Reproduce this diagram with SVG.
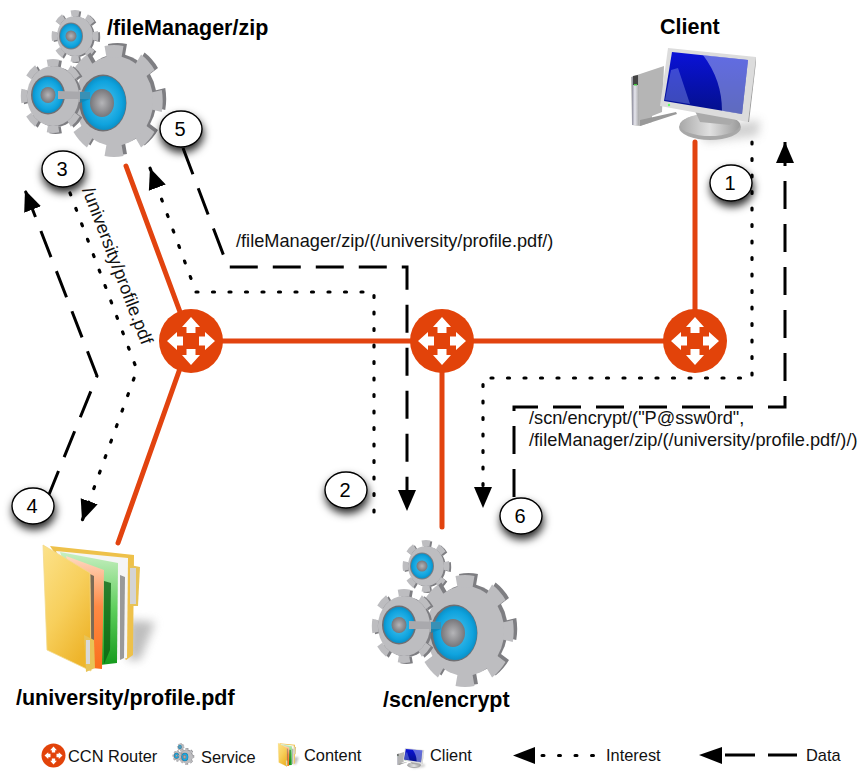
<svg xmlns="http://www.w3.org/2000/svg" width="861" height="771" viewBox="0 0 861 771">
<style>
text{font-family:"Liberation Sans",Arial,sans-serif;fill:#000}
.title{font-size:21.500px;font-weight:bold}
.lab{font-size:18.200px;fill:#111}
.leg{font-size:16.400px;fill:#111}
.num{font-size:20px;text-anchor:middle}
.link{stroke:#E2430F;stroke-width:5;fill:none;stroke-linecap:round}
.int{fill:none;stroke:#000;stroke-width:3.200;stroke-linecap:round;stroke-dasharray:2 14.500}
.dat{fill:none;stroke:#000;stroke-width:3;stroke-dasharray:28 15}
.bub{fill:#fff;stroke:#000;stroke-width:1.400;filter:url(#sh)}
.gd{fill:#7e7e82}
.gf{fill:#bdbdc0}
.td{fill:none;stroke:#7e7e82;stroke-dasharray:1 1;stroke-dashoffset:.5}
.tf{fill:none;stroke:#bdbdc0;stroke-dasharray:1 1;stroke-dashoffset:.5}
</style>
<defs>
<filter id="sh" x="-60%" y="-60%" width="220%" height="240%"><feDropShadow dx="1" dy="5" stdDeviation="4.500" flood-color="#000" flood-opacity=".85"/></filter>
<filter id="soft" x="-50%" y="-50%" width="200%" height="200%"><feGaussianBlur stdDeviation="5"/></filter>
<radialGradient id="bl"><stop offset="0" stop-color="#4fc4ee"/><stop offset=".8" stop-color="#0fa3de"/><stop offset="1" stop-color="#0b8fc6"/></radialGradient>
<radialGradient id="hub"><stop offset="0" stop-color="#b5b5b8"/><stop offset="1" stop-color="#77777b"/></radialGradient>
<linearGradient id="yf" x1="0" y1="0" x2=".6" y2="1"><stop offset="0" stop-color="#fce28a"/><stop offset=".55" stop-color="#f7cf5c"/><stop offset="1" stop-color="#eeb52c"/></linearGradient>
<linearGradient id="sc" x1="0" y1="0" x2="0" y2="1"><stop offset="0" stop-color="#0a12d8"/><stop offset="1" stop-color="#04108a"/></linearGradient>
<linearGradient id="gr" x1="0" y1="0" x2="0" y2="1"><stop offset="0" stop-color="#c8efc2"/><stop offset=".5" stop-color="#5fcf5c"/><stop offset="1" stop-color="#149a1c"/></linearGradient>
<linearGradient id="or" x1="0" y1="0" x2="0" y2="1"><stop offset="0" stop-color="#ffd9c2"/><stop offset=".45" stop-color="#fd8a45"/><stop offset="1" stop-color="#fb6f1c"/></linearGradient>
<linearGradient id="tw" x1="0" y1="0" x2="1" y2="0"><stop offset="0" stop-color="#8d8d9c"/><stop offset=".4" stop-color="#e6e6ee"/><stop offset="1" stop-color="#a8a8a8"/></linearGradient>
<linearGradient id="st" x1="0" y1="0" x2="1" y2="0"><stop offset="0" stop-color="#a9a9a9"/><stop offset=".5" stop-color="#e0e0e0"/><stop offset="1" stop-color="#9a9a9a"/></linearGradient>
<marker id="ah" markerUnits="userSpaceOnUse" markerWidth="24" markerHeight="24" refX="21" refY="10" orient="auto"><path d="M0 1L21 10L0 19Z"/></marker>

<g id="gear">
<g transform="translate(75,36) scale(.9,1)">
<circle class="gd" r="20" transform="translate(2,1)"/>
<circle class="td" r="23" stroke-width="6" pathLength="16" transform="translate(2,1)"/>
<circle class="gf" r="20"/>
<circle class="tf" r="23" stroke-width="6" pathLength="16"/>
</g>
<ellipse cx="71" cy="36" rx="12" ry="13.500" fill="#7c7c80"/><ellipse cx="71" cy="36" rx="11" ry="12.500" fill="url(#bl)"/><circle cx="71" cy="36" r="5.500" fill="url(#hub)"/>
<g transform="translate(114,101) scale(.87,1)">
<circle class="gd" r="45" transform="translate(4,-2)"/>
<circle class="td" r="50" stroke-width="12" pathLength="16" transform="translate(4,-2)"/>
<circle class="gf" r="45"/>
<circle class="tf" r="50" stroke-width="12" pathLength="16"/>
</g>
<g transform="translate(53,96) scale(.87,1)">
<circle class="gd" r="30" transform="translate(3,1)"/>
<circle class="td" r="33.500" stroke-width="7" pathLength="16" transform="translate(3,1)"/>
<circle class="gf" r="30"/>
<circle class="tf" r="33.500" stroke-width="7" pathLength="16"/>
</g>
<ellipse cx="48" cy="95" rx="17" ry="19.500" fill="#6f6f73"/><ellipse cx="48" cy="95" rx="15.500" ry="18" fill="url(#bl)"/><ellipse cx="48" cy="95" rx="7.500" ry="8" fill="url(#hub)"/>
<ellipse cx="103" cy="103" rx="23.500" ry="28.500" fill="#6f6f73"/>
<ellipse cx="104" cy="103" rx="22" ry="27" fill="url(#bl)"/>
<path d="M58 91L90 92L90 99L58 99Z" fill="#a9a9ad"/>
<path d="M80 92L90 92L90 99L80 103Z" fill="#0a86b8" opacity=".7"/>
<ellipse cx="102" cy="103" rx="12" ry="14" fill="url(#hub)"/>
</g>

<g id="router">
<circle r="32" fill="#E2430A"/>
<g fill="#fff">
<path d="M0 -24L9 -14L4.500 -14L4.500 -8L-4.500 -8L-4.500 -14L-9 -14Z"/>
<path d="M0 -24L9 -14L4.500 -14L4.500 -8L-4.500 -8L-4.500 -14L-9 -14Z" transform="rotate(90)"/>
<path d="M0 -24L9 -14L4.500 -14L4.500 -8L-4.500 -8L-4.500 -14L-9 -14Z" transform="rotate(180)"/>
<path d="M0 -24L9 -14L4.500 -14L4.500 -8L-4.500 -8L-4.500 -14L-9 -14Z" transform="rotate(270)"/>
</g>
</g>

<g id="pc">
<path d="M700 128L760 120L758 136L705 142Z" fill="#999" opacity=".45" filter="url(#soft)"/>
<path d="M631 77L664 66L662 112L652 116L652 122L640 126L632 125Z" fill="#b5b5b5"/>
<path d="M632 77L639 75L639 125L632 125Z" fill="url(#tw)"/>
<path d="M633 76L638 75L638 85L633 85Z" fill="#444"/><rect x="634" y="84" width="3" height="1.500" fill="#4c4"/>
<path d="M640 126L640 120L676 112L677 114Z" fill="#999"/>
<ellipse cx="710" cy="127" rx="31" ry="13" fill="#a8a8a8"/>
<ellipse cx="710" cy="125" rx="30" ry="11" fill="url(#st)"/>
<path d="M695 111L735 118L730 125L700 122Z" fill="#aaa"/>
<path d="M668 48L756 57L748 122L660 106Z" fill="#dcdcdc"/>
<path d="M756 57L756 62L749 122L748 122Z" fill="#9a9a9a"/>
<path d="M672 52L748 60L742 114L664 101Z" fill="url(#sc)"/>
<path d="M703 55L748 60L742 114L722 111Q722 80 703 55Z" fill="#b9c6f2" opacity=".5"/>
<path d="M671 70L678 68L690 104L665 100Z" fill="#8ea0f0" opacity=".4"/>
<circle cx="669" cy="105" r="1.200" fill="#6f6"/>
</g>

<g id="folder">
<path d="M128 620L155 622L140 660L128 660Z" fill="#888" opacity=".55" filter="url(#soft)"/>
<path d="M50 546L134 555L133 655L126 660Z" fill="#eec14a"/>
<path d="M56 551L128 558L127 658L100 664Z" fill="#f5f5f5"/>
<path d="M120 575L125 577L124 658L120 660Z" fill="#999"/>
<path d="M60 552L118 563L117 663L100 665Z" fill="url(#gr)"/>
<path d="M104 581L111 583L110 650L104 664Z" fill="#0b5f12" opacity=".75"/>
<path d="M66 556L104 570L102 669L92 668Z" fill="url(#or)"/>
<path d="M90 574L94 576L94 668L91 668Z" fill="#7b6a55"/>
<path d="M43 545L90 573L91 671L47 650Z" fill="url(#yf)" stroke="#f3d98a" stroke-width=".800"/>
<path d="M84 635L94 640L95 668L86 672Z" fill="#e8c357"/><rect x="86" y="640" width="4" height="24" fill="#d9d9d9"/>
<path d="M130 565L140 567L138 606L130 606Z" fill="#e8c357"/><rect x="130" y="568" width="6" height="36" fill="#d4d4d4"/>
</g>
</defs>

<rect width="861" height="771" fill="#fff"/>

<g id="step-1"><ellipse class="bub" cx="731" cy="183" rx="21" ry="18"/><text class="num" x="730" y="190">1</text></g>

<g id="connectors">
<g id="links">
<path class="link" d="M126 166L183 320"/>
<path class="link" d="M191 341H695"/>
<path class="link" d="M183 360L118 543"/>
<path class="link" d="M442 341V527"/>
<path class="link" d="M695 341V142"/>
</g>
<g id="interest">
<path class="int" marker-end="url(#ah)" d="M752 142V378H483V508"/>
<path class="int" marker-end="url(#ah)" d="M374 512V292H196L150 168"/>
<path class="int" marker-end="url(#ah)" d="M70 193L137 370L82 521"/>
</g>
<g id="data">
<path class="dat" marker-end="url(#ah)" d="M48 497L97 376L25 190"/>
<path class="dat" marker-end="url(#ah)" d="M183 148L228 267H407V511"/>
<path class="dat" marker-end="url(#ah)" d="M514 497V407H785V142"/>
</g>
</g>

<g id="node-router-1"><use href="#router" transform="translate(191,341)"/></g>
<g id="node-router-2"><use href="#router" transform="translate(442,341)"/></g>
<g id="node-router-3"><use href="#router" transform="translate(695,341)"/></g>

<g id="node-filemanager"><use href="#gear"/><text class="title" x="107" y="35">/fileManager/zip</text></g>
<g id="node-client"><use href="#pc"/><text class="title" x="660" y="34">Client</text></g>
<g id="node-content"><use href="#folder"/><text class="title" x="16" y="705">/university/profile.pdf</text></g>
<g id="node-encrypt"><use href="#gear" transform="translate(351,530)"/><text class="title" x="383" y="707">/scn/encrypt</text></g>

<g id="labels">
<text class="lab" x="236" y="247">/fileManager/zip/(/university/profile.pdf/)</text>
<text class="lab" x="529" y="424">/scn/encrypt/("P@ssw0rd",</text>
<text class="lab" x="529" y="446">/fileManager/zip/(/university/profile.pdf/)/)</text>
<text class="lab" transform="translate(82,190) rotate(69)">/university/profile.pdf</text>
</g>

<g id="step-2"><ellipse class="bub" cx="346" cy="490" rx="21" ry="18"/><text class="num" x="345" y="497">2</text></g>
<g id="step-3"><ellipse class="bub" cx="63" cy="169" rx="21" ry="18"/><text class="num" x="62" y="176">3</text></g>
<g id="step-4"><ellipse class="bub" cx="33" cy="506" rx="21" ry="18"/><text class="num" x="32" y="513">4</text></g>
<g id="step-5"><ellipse class="bub" cx="181" cy="129" rx="21" ry="18"/><text class="num" x="180" y="136">5</text></g>
<g id="step-6"><ellipse class="bub" cx="521" cy="516" rx="21" ry="18"/><text class="num" x="520" y="523">6</text></g>

<g id="legend">
<use href="#router" transform="translate(53.500,755.500) scale(.375)"/>
<text class="leg" x="68" y="762">CCN Router</text>
<use href="#gear" transform="translate(169.300,741.500) scale(.15)"/>
<text class="leg" x="201" y="763">Service</text>
<use href="#folder" transform="translate(270,641.600) scale(.186)"/>
<text class="leg" x="304" y="761">Content</text>
<use href="#pc" transform="translate(260,737.600) scale(.217)"/>
<text class="leg" x="430" y="761">Client</text>
<path d="M513 755.500L535 747V764Z"/>
<path d="M542 755.500H598" fill="none" stroke="#000" stroke-width="3" stroke-linecap="round" stroke-dasharray="2 14.500"/>
<text class="leg" x="606" y="761">Interest</text>
<path d="M699 755L722 747V764Z"/>
<path d="M725 755H755M768 755H797" fill="none" stroke="#000" stroke-width="3"/>
<text class="leg" x="806" y="761">Data</text>
</g>
</svg>
